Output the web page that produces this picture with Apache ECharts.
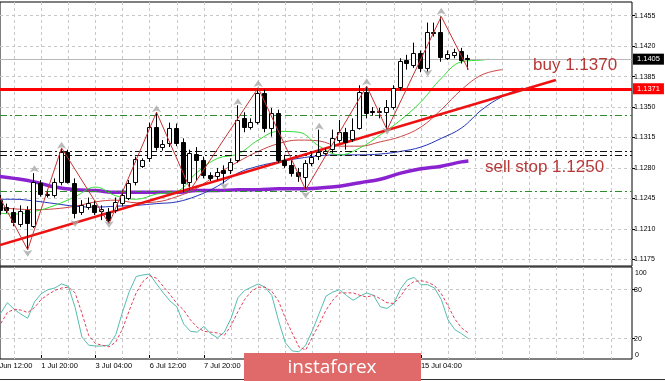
<!DOCTYPE html>
<html><head><meta charset="utf-8">
<script src="https://cdn.jsdelivr.net/npm/echarts@6/dist/echarts.min.js"></script>
<style>html,body{margin:0;padding:0;background:#fff}#c{width:665px;height:381px}</style>
</head><body><div id="c"></div>
<script>
// ---- data (H4 bars, bar index 0 = 30 Jun 12:00) ----
const firstBar = 2;
const opens  = [1.1243,1.1235,1.1229,1.1216,1.1232,1.1214,1.1263,1.1249,1.1249,1.1264,1.1298,1.1263,1.1229,1.1235,1.1237,1.1231,1.1229,1.1232,1.1240,1.1246,1.1264,1.1282,1.1291,1.1327,1.1304,1.1309,1.1326,1.1310,1.1264,1.1296,1.1289,1.1272,1.1270,1.1278,1.1278,1.1289,1.1337,1.1327,1.1333,1.1366,1.1326,1.1343,1.1289,1.1283,1.1275,1.1270,1.1286,1.1293,1.1298,1.1301,1.1312,1.1321,1.1314,1.1326,1.1367,1.1345,1.1344,1.1344,1.1350,1.1373,1.1404,1.1398,1.1412,1.1395,1.1436,1.1436,1.1406,1.1410,1.1414,1.1406];
const closes = [1.1232,1.1231,1.1217,1.1231,1.1217,1.1264,1.1250,1.1250,1.1264,1.1298,1.1264,1.1228,1.1237,1.1240,1.1229,1.1233,1.1220,1.1241,1.1249,1.1263,1.1290,1.1289,1.1327,1.1304,1.1307,1.1326,1.1309,1.1263,1.1297,1.1289,1.1272,1.1268,1.1275,1.1274,1.1287,1.1335,1.1327,1.1333,1.1366,1.1326,1.1343,1.1289,1.1283,1.1274,1.1270,1.1286,1.1293,1.1298,1.1300,1.1314,1.1321,1.1309,1.1324,1.1367,1.1343,1.1344,1.1345,1.1350,1.1372,1.1403,1.1400,1.1412,1.1395,1.1436,1.1435,1.1407,1.1411,1.1413,1.1404,1.1405];
const lows   = [1.1226,1.1228,1.1213,1.1212,1.1186,1.1211,1.1247,1.1246,1.1246,1.1260,1.1262,1.1222,1.1226,1.1232,1.1226,1.1220,1.1216,1.1228,1.1236,1.1243,1.1260,1.1280,1.1287,1.1300,1.1300,1.1304,1.1305,1.1252,1.1255,1.1266,1.1268,1.1265,1.1266,1.1262,1.1273,1.1286,1.1321,1.1324,1.1330,1.1321,1.1316,1.1286,1.1280,1.1270,1.1264,1.1255,1.1282,1.1289,1.1295,1.1297,1.1309,1.1301,1.1310,1.1324,1.1337,1.1340,1.1337,1.1324,1.1347,1.1369,1.1393,1.1395,1.1390,1.1390,1.1431,1.1402,1.1404,1.1406,1.1400,1.1393];
const highs  = [1.1249,1.1239,1.1234,1.1237,1.1236,1.1274,1.1266,1.1255,1.1268,1.1303,1.1301,1.1268,1.1243,1.1246,1.1243,1.1237,1.1234,1.1246,1.1255,1.1266,1.1293,1.1291,1.1332,1.1344,1.1312,1.1332,1.1331,1.1314,1.1301,1.1304,1.1293,1.1275,1.1280,1.1283,1.1291,1.1352,1.1344,1.1337,1.1372,1.1370,1.1349,1.1347,1.1295,1.1289,1.1280,1.1289,1.1298,1.1324,1.1303,1.1324,1.1335,1.1326,1.1337,1.1375,1.1374,1.1350,1.1349,1.1358,1.1375,1.1406,1.1410,1.1424,1.1415,1.1447,1.1447,1.1454,1.1415,1.1417,1.1418,1.1410];

// Alligator (shifted forward) and long MA
const jawBars   = [1,4,7,10,13,16,19,22,25,28,31,34,37,40,43,46,49,52,55,58,61,64,67,70,73,76,79];
const jawPrices = [1.1244,1.1244,1.1242,1.1239,1.1236,1.1235,1.1236,1.1237,1.1239,1.1241,1.1248,1.1259,1.1274,1.1282,1.1287,1.1291,1.1294,1.1295,1.1295,1.1296,1.1299,1.1304,1.1314,1.1326,1.1347,1.1362,1.1372];
const teethBars   = [1,4,7,10,13,16,19,22,25,28,31,34,37,40,43,46,49,52,55,58,61,64,67,70,73,76];
const teethPrices = [1.1235,1.1233,1.1232,1.1233,1.1236,1.1241,1.1243,1.1240,1.1241,1.1247,1.1257,1.1273,1.1287,1.1299,1.1308,1.1312,1.1311,1.1305,1.1305,1.1310,1.1316,1.1327,1.1347,1.1370,1.1387,1.1393];
const lipsBars   = [1,4,7,10,13,16,19,22,25,28,31,34,37,40,43,46,49,52,55,58,61,64,67,70,73,74];
const lipsPrices = [1.1229,1.1227,1.1230,1.1237,1.1247,1.1258,1.1248,1.1244,1.1250,1.1253,1.1275,1.1291,1.1296,1.1312,1.1322,1.1321,1.1305,1.1295,1.1303,1.1318,1.1335,1.1356,1.1383,1.1402,1.1404,1.1405];
const maBars   = [1,4,7,10,13,16,19,22,25,28,31,34,37,40,43,46,49,52,55,58,61,64,67,70,71];
const maPrices = [1.1271,1.1268,1.1264,1.1258,1.1255,1.1254,1.1252,1.1252,1.1252,1.1252,1.1254,1.1254,1.1255,1.1255,1.1256,1.1256,1.1257,1.1259,1.1263,1.1267,1.1274,1.1279,1.1282,1.1287,1.1288];

// ZigZag and fractals
const zigBars   = [1,6,11,18,25,30,40,47,56,59,67,71];
const zigPrices = [1.1259,1.1186,1.1303,1.1216,1.1344,1.1255,1.1372,1.1255,1.1374,1.1324,1.1454,1.1393];
const fracUpBars   = [7,11,25,37,40,49,56,67];
const fracUpPrices = [1.1283,1.1310,1.1352,1.1360,1.1381,1.1332,1.1383,1.1464];
const fracDnBars   = [6,13,18,35,47,59,65,72];
const fracDnPrices = [1.1178,1.1212,1.1211,1.1255,1.1245,1.1318,1.1385,1.1469];

// Levels
const currentPrice = 1.1405;
const buyLevel = 1.1371;
const greenLevels = [1.1340, 1.1253];
const blackLevels = [1.1299, 1.1295];
const trendStart = [1.92, 1.11914];
const trendEnd   = [83.9, 1.13810];

// Stochastic
const stochStart = 1;
const stochK = [45,51,64,56,50,45,65,75,80,82,87,84,58,22,12,11,11,12,25,53,78,96,98,99,87,76,66,59,38,29,28,35,26,21,28,45,70,79,83,87,83,73,42,15,5,4,12,30,51,72,77,80,73,67,72,76,73,59,57,63,81,92,95,86,86,82,68,43,31,26,20];
const stochD = [30,38,52,56,55,52,58,68,74,79,82,83,76,51,24,14,12,10,16,32,55,76,90,97,94,84,74,63,55,43,34,29,28,27,24,36,53,68,78,83,83,78,66,45,27,10,6,22,38,55,67,76,76,76,73,71,73,69,64,63,72,84,90,91,89,85,75,60,44,33,27];

// Axis ticks / labels
const tickLabels = ['30 Jun 12:00','1 Jul 20:00','3 Jul 04:00','6 Jul 12:00','7 Jul 20:00','9 Jul 04:00','10 Jul 12:00','13 Jul 20:00','15 Jul 04:00'];
const labelBars = [0,8,16,24,32,40,48,56,64];
const gridBars = [4,8,12,16,20,24,28,32,36,40,44,48,52,56,60,64,68,72,76,80,84,88,92];
const priceTicks = [1.1175,1.1210,1.1245,1.1280,1.1315,1.1350,1.1385,1.1420,1.1455];
const stochGrid = [20,80];
const stochEdges = [100, 0];

// ---- chart ----
const FONT = '"Liberation Sans", Arial, sans-serif';
const pair = (bars, vals) => bars.map((b, k) => [b, vals[k]]);
const candleData = opens.map((o, k) => [firstBar + k, o, closes[k], lows[k], highs[k]]);
const kData = stochK.map((v, k) => [stochStart + k, v]);
const dData = stochD.map((v, k) => [stochStart + k, v]);

const gridLine = {show: true, lineStyle: {color: '#c8c8c8', type: [3, 3], width: 1}};
const XMIN = 1.917, XMAX = 95.13;
const SMIN = -4.9, SMAX = 107.7;

function renderCandle(params, api) {
  const i = api.value(0), o = api.value(1), c = api.value(2), l = api.value(3), h = api.value(4);
  const pO = api.coord([i, o]), pC = api.coord([i, c]), pL = api.coord([i, l]), pH = api.coord([i, h]);
  const cx = Math.round(pO[0]);
  const top = Math.min(pO[1], pC[1]), bot = Math.max(pO[1], pC[1]);
  const bull = c >= o;
  return {type: 'group', children: [
    {type: 'line', shape: {x1: cx - 0.5, y1: pH[1], x2: cx - 0.5, y2: pL[1]}, style: {stroke: '#000', lineWidth: 1}},
    {type: 'rect', shape: {x: cx - 2.5, y: Math.round(top) + 0.5, width: 4, height: Math.max(Math.round(bot - top), 1)},
     style: {fill: bull ? '#fff' : '#000', stroke: '#000', lineWidth: 1}}
  ]};
}

// stochastic edge labels (0 and 100) drawn through the stochastic axis scale
function renderEdgeLabel(params, api) {
  const p = api.coord([XMAX, api.value(1)]);
  return {type: 'text', x: p[0] + 3, y: p[1],
    style: {text: String(api.value(1)), fill: '#000', fontSize: 7, fontFamily: 'Liberation Sans',
            align: 'left', verticalAlign: 'middle'}};
}

const dashDot = [7, 3, 2, 3];
const chart = echarts.init(document.getElementById('c'), null, {renderer: 'canvas'});
chart.setOption({
  animation: false,
  backgroundColor: '#fff',
  textStyle: {fontFamily: FONT},
  grid: [
    {left: 0, top: 2, width: 632, height: 264, show: true, borderColor: '#000', borderWidth: 1, outerBoundsMode: 'none', containLabel: false},
    {left: 0, top: 267, width: 632, height: 92, show: true, borderColor: '#000', borderWidth: 1, outerBoundsMode: 'none', containLabel: false}
  ],
  xAxis: [
    {gridIndex: 0, type: 'value', min: XMIN, max: XMAX, axisLine: {show: false},
     axisTick: {show: false, customValues: gridBars}, axisLabel: {show: false}, splitLine: gridLine},
    {gridIndex: 1, type: 'value', min: XMIN, max: XMAX, position: 'bottom', axisLine: {show: false},
     axisTick: {show: true, customValues: labelBars, length: 3, lineStyle: {color: '#000'}},
     axisLabel: {customValues: labelBars, formatter: v => tickLabels[Math.round(v / 8)], align: 'left',
       fontSize: 7.5, color: '#000', margin: 3, fontFamily: FONT, showMinLabel: true, hideOverlap: false},
     splitLine: {show: false}},
    {gridIndex: 1, type: 'value', min: XMIN, max: XMAX, position: 'top', axisLine: {show: false},
     axisTick: {show: false, customValues: gridBars}, axisLabel: {show: false}, splitLine: gridLine}
  ],
  yAxis: [
    {gridIndex: 0, type: 'value', position: 'right', min: 1.11673, max: 1.14707, axisLine: {show: false},
     axisTick: {show: true, customValues: priceTicks, length: 3, lineStyle: {color: '#000'}},
     axisLabel: {customValues: priceTicks, formatter: v => v.toFixed(4), fontSize: 7, color: '#000', margin: 2, fontFamily: FONT,
       hideOverlap: false},
     splitLine: gridLine},
    {gridIndex: 1, type: 'value', position: 'right', min: SMIN, max: SMAX, axisLine: {show: false},
     axisTick: {show: true, customValues: stochGrid, length: 3, lineStyle: {color: '#000'}},
     axisLabel: {customValues: stochGrid, formatter: v => String(Math.round(v)), fontSize: 7, color: '#000', margin: 2,
       fontFamily: FONT, hideOverlap: false},
     splitLine: gridLine}
  ],
  series: [
    {type: 'line', name: 'ma', xAxisIndex: 0, yAxisIndex: 0, data: pair(maBars, maPrices), smooth: 0.4, symbol: 'none',
     lineStyle: {color: '#8a22d0', width: 3.5}, z: 3,
     markLine: {silent: true, symbol: ['none', 'none'], animation: false, precision: 4,
       data: [
         {yAxis: currentPrice, lineStyle: {color: '#b8b8b8', width: 1, type: 'solid'},
          label: {show: true, position: 'end', formatter: currentPrice.toFixed(4), color: '#fff', backgroundColor: '#000',
                  padding: [2, 4, 1, 4], fontSize: 7.5, distance: 1, fontFamily: FONT}},
         {yAxis: greenLevels[0], lineStyle: {color: '#2e8b2e', width: 1, type: dashDot}, label: {show: false}},
         {yAxis: greenLevels[1], lineStyle: {color: '#2e8b2e', width: 1, type: dashDot}, label: {show: false}},
         {yAxis: blackLevels[0], lineStyle: {color: '#111', width: 1, type: dashDot}, label: {show: false}},
         {yAxis: blackLevels[1], lineStyle: {color: '#111', width: 1, type: dashDot}, label: {show: false}},
         {yAxis: buyLevel, lineStyle: {color: '#ff0000', width: 3, type: 'solid'},
          label: {show: true, position: 'end', formatter: buyLevel.toFixed(4), color: '#fff', backgroundColor: '#ff0000',
                  padding: [2, 4, 1, 4], fontSize: 7.5, distance: 1, fontFamily: FONT}},
         [{coord: trendStart, lineStyle: {color: '#ee1111', width: 2.5, type: 'solid'}, label: {show: false}}, {coord: trendEnd}]
       ]}},
    {type: 'line', name: 'jaw', xAxisIndex: 0, yAxisIndex: 0, data: pair(jawBars, jawPrices), smooth: 0.4, symbol: 'none',
     lineStyle: {color: '#2233b8', width: 1}, z: 4},
    {type: 'line', name: 'teeth', xAxisIndex: 0, yAxisIndex: 0, data: pair(teethBars, teethPrices), smooth: 0.4, symbol: 'none',
     lineStyle: {color: '#cc4444', width: 1}, z: 4},
    {type: 'line', name: 'lips', xAxisIndex: 0, yAxisIndex: 0, data: pair(lipsBars, lipsPrices), smooth: 0.4, symbol: 'none',
     lineStyle: {color: '#33dd33', width: 1}, z: 4},
    {type: 'custom', name: 'candles', xAxisIndex: 0, yAxisIndex: 0, data: candleData, encode: {x: 0, y: [1, 2, 3, 4]},
     renderItem: renderCandle, clip: true, z: 5},
    {type: 'line', name: 'zigzag', xAxisIndex: 0, yAxisIndex: 0, data: pair(zigBars, zigPrices), symbol: 'none',
     lineStyle: {color: '#c83232', width: 1}, z: 6},
    {type: 'scatter', name: 'fracUp', xAxisIndex: 0, yAxisIndex: 0, data: pair(fracUpBars, fracUpPrices),
     symbol: 'arrow', symbolSize: [7, 7], itemStyle: {color: '#a8a8a8'}, z: 7},
    {type: 'scatter', name: 'fracDn', xAxisIndex: 0, yAxisIndex: 0, data: pair(fracDnBars, fracDnPrices),
     symbol: 'arrow', symbolSize: [7, 7], symbolRotate: 180, itemStyle: {color: '#a8a8a8'}, z: 7},
    {type: 'line', name: '%K', xAxisIndex: 1, yAxisIndex: 1, data: kData, symbol: 'none',
     lineStyle: {color: '#55bdb0', width: 1}},
    {type: 'line', name: '%D', xAxisIndex: 1, yAxisIndex: 1, data: dData, symbol: 'none',
     lineStyle: {color: '#e0405a', width: 1, type: [3, 2]}},
    {type: 'custom', name: 'stochEdges', xAxisIndex: 1, yAxisIndex: 1, clip: false, silent: true, z: 20,
     data: stochEdges.map(v => [XMAX, v]), encode: {x: 0, y: 1}, renderItem: renderEdgeLabel}
  ],
  graphic: [
    {type: 'line', shape: {x1: 0, y1: 379.5, x2: 665, y2: 379.5}, style: {stroke: '#333', lineWidth: 1}, z: 50},
    {type: 'text', x: -11, y: 362, style: {text: tickLabels[0], fill: '#000', font: '7.5px "Liberation Sans", Arial, sans-serif',
      textAlign: 'left', textVerticalAlign: 'top'}, z: 60},
    {type: 'text', x: 533, y: 65, style: {text: 'buy 1.1370', fill: '#b83838', font: '17px "Liberation Sans", Arial, sans-serif',
      textAlign: 'left', textVerticalAlign: 'middle'}, z: 60},
    {type: 'text', x: 485, y: 167, style: {text: 'sell stop 1.1250', fill: '#b83838', font: '17px "Liberation Sans", Arial, sans-serif',
      textAlign: 'left', textVerticalAlign: 'middle'}, z: 60},
    {type: 'rect', shape: {x: 244, y: 353, width: 177, height: 28}, style: {fill: '#e06a6a'}, z: 100},
    {type: 'text', x: 332, y: 368, style: {text: 'instaforex', fill: '#fff', font: '19px "Open Sans", sans-serif',
      textAlign: 'center', textVerticalAlign: 'middle'}, z: 101}
  ]
});
</script>
</body></html>
